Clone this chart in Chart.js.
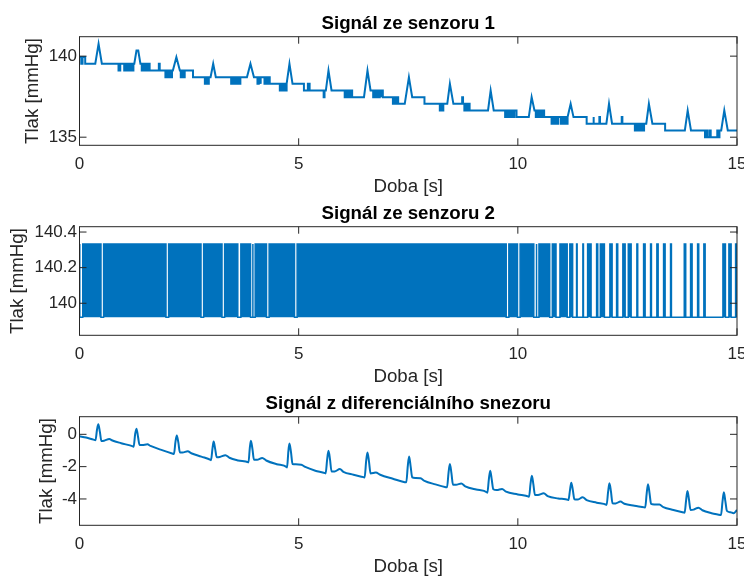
<!DOCTYPE html>
<html>
<head>
<meta charset="utf-8">
<script src="https://cdn.jsdelivr.net/npm/chart.js@4"></script>
<style>
html,body{margin:0;padding:0;background:#fff;overflow:hidden;width:744px;height:576px;position:relative;}
canvas{position:absolute;left:0;}
</style>
</head>
<body>
<canvas id="c1" width="744" height="200" style="top:0px"></canvas>
<canvas id="c2" width="744" height="200" style="top:190px"></canvas>
<canvas id="c3" width="744" height="200" style="top:380px"></canvas>
<script>
// ---------- text ----------
const plotTitles = ['Signál ze senzoru 1', 'Signál ze senzoru 2', 'Signál z diferenciálního snezoru'];
const xAxisTitle = 'Doba [s]';
const yAxisTitle = 'Tlak [mmHg]';

// ---------- ticks ----------
const xTickValues = [0, 5, 10, 15];
const xTickLabels = ['0', '5', '10', '15'];
const y1TickValues = [135, 140];
const y1TickLabels = ['135', '140'];
const y2TickValues = [140, 140.2, 140.4];
const y2TickLabels = ['140', '140.2', '140.4'];
const y3TickValues = [-4, -2, 0];
const y3TickLabels = ['-4', '-2', '0'];

// ---------- sensor 1 (vertices of the quantized trace) ----------
const s1Time = [
 0, 0.04, 0.04, 0.07, 0.07, 0.13, 0.13,
 0.36, 0.435, 0.51,
 0.89, 0.89, 0.93, 0.93,
 1.02, 1.02, 1.05, 1.05, 1.08, 1.08, 1.11, 1.11, 1.14, 1.14, 1.17, 1.17, 1.20, 1.20, 1.23, 1.23,
 1.25, 1.30, 1.34, 1.39,
 1.42, 1.42, 1.45, 1.45, 1.48, 1.48, 1.51, 1.51, 1.54, 1.54, 1.57, 1.57,
 1.60, 1.60, 1.81, 1.81, 1.83, 1.83,
 1.96, 1.96, 1.99, 1.99, 2.02, 2.02, 2.05, 2.05, 2.08, 2.08, 2.11, 2.11,
 2.13, 2.21, 2.29,
 2.31, 2.31, 2.34, 2.34, 2.37, 2.37, 2.40, 2.40,
 2.59, 2.59,
 2.86, 2.86, 2.89, 2.89, 2.92, 2.92, 2.95, 2.95,
 2.99, 3.05, 3.11,
 3.46, 3.46, 3.49, 3.49, 3.52, 3.52, 3.55, 3.55, 3.58, 3.58, 3.61, 3.61, 3.64, 3.64, 3.67, 3.67,
 3.82, 3.90, 3.98,
 4.06, 4.06, 4.09, 4.09, 4.12, 4.12, 4.14, 4.14,
 4.22, 4.22, 4.25, 4.25, 4.28, 4.28, 4.31, 4.31, 4.34, 4.34,
 4.57, 4.57, 4.60, 4.60, 4.63, 4.63, 4.66, 4.66, 4.69, 4.69, 4.72, 4.72,
 4.73, 4.79, 4.86,
 5.12, 5.12, 5.21, 5.21, 5.25, 5.25,
 5.57, 5.57, 5.59, 5.59,
 5.62, 5.68, 5.75,
 6.05, 6.05, 6.08, 6.08, 6.11, 6.11, 6.14, 6.14, 6.17, 6.17, 6.20, 6.20, 6.22, 6.22,
 6.49, 6.57, 6.64,
 6.70, 6.70, 6.73, 6.73, 6.76, 6.76, 6.79, 6.79, 6.82, 6.82, 6.85, 6.85, 6.88, 6.88, 6.90, 6.90, 6.92, 6.92,
 7.15, 7.15, 7.18, 7.18, 7.21, 7.21, 7.24, 7.24, 7.27, 7.27,
 7.42, 7.515, 7.59,
 7.87, 7.87,
 8.22, 8.22, 8.25, 8.25, 8.28, 8.28, 8.30, 8.30,
 8.39, 8.45, 8.53,
 8.73, 8.73, 8.75, 8.75,
 8.78, 8.78, 8.81, 8.81, 8.84, 8.84, 8.87, 8.87, 8.90, 8.90,
 9.32, 9.38, 9.45,
 9.71, 9.71, 9.74, 9.74, 9.77, 9.77, 9.80, 9.80, 9.83, 9.83, 9.86, 9.86, 9.89, 9.89, 9.92, 9.92, 9.97, 9.97,
 10.25, 10.315, 10.38,
 10.41, 10.41, 10.44, 10.44, 10.47, 10.47, 10.50, 10.50, 10.53, 10.53, 10.56, 10.56, 10.60, 10.60,
 10.77, 10.77, 10.80, 10.80, 10.83, 10.83, 10.86, 10.86, 10.89, 10.89, 10.92, 10.92,
 10.98, 10.98, 11.01, 11.01, 11.04, 11.04, 11.07, 11.07, 11.10, 11.10, 11.13, 11.13,
 11.14, 11.205, 11.27,
 11.57, 11.57, 11.72, 11.72, 11.735, 11.735, 11.86, 11.86, 11.875, 11.875,
 12.02, 12.08, 12.15,
 12.37, 12.37, 12.385, 12.385,
 12.67, 12.67, 12.70, 12.70, 12.73, 12.73, 12.76, 12.76, 12.79, 12.79, 12.82, 12.82, 12.85, 12.85, 12.88, 12.88,
 12.93, 12.99, 13.07,
 13.36, 13.36,
 13.81, 13.875, 13.95,
 14.27, 14.27, 14.31, 14.31, 14.33, 14.33, 14.38, 14.38, 14.40, 14.40, 14.55, 14.55, 14.57, 14.57, 14.60, 14.60,
 14.64, 14.71, 14.79,
 15.0
];
const s1Value = [
 139.94, 139.94, 139.53, 139.53, 139.94, 139.94, 139.53,
 139.53, 140.76, 139.53,
 139.53, 139.11, 139.11, 139.53,
 139.53, 139.11, 139.11, 139.53, 139.53, 139.11, 139.11, 139.53, 139.53, 139.11, 139.11, 139.53, 139.53, 139.11, 139.11, 139.53,
 139.53, 140.35, 140.35, 139.53,
 139.53, 139.11, 139.11, 139.53, 139.53, 139.11, 139.11, 139.53, 139.53, 139.11, 139.11, 139.53,
 139.53, 139.11, 139.11, 139.53, 139.53, 139.11,
 139.11, 138.70, 138.70, 139.11, 139.11, 138.70, 138.70, 139.11, 139.11, 138.70, 138.70, 139.11,
 139.11, 139.94, 139.11,
 139.11, 138.70, 138.70, 139.11, 139.11, 138.70, 138.70, 139.11,
 139.11, 138.70,
 138.70, 138.29, 138.29, 138.70, 138.70, 138.29, 138.29, 138.70,
 138.70, 139.53, 138.70,
 138.70, 138.29, 138.29, 138.70, 138.70, 138.29, 138.29, 138.70, 138.70, 138.29, 138.29, 138.70, 138.70, 138.29, 138.29, 138.70,
 138.70, 139.53, 138.70,
 138.70, 138.29, 138.29, 138.70, 138.70, 138.29, 138.29, 138.70,
 138.70, 138.29, 138.29, 138.70, 138.70, 138.29, 138.29, 138.70, 138.70, 138.29,
 138.29, 137.88, 137.88, 138.29, 138.29, 137.88, 137.88, 138.29, 138.29, 137.88, 137.88, 138.29,
 138.29, 139.53, 138.29,
 138.29, 137.88, 137.88, 138.29, 138.29, 137.88,
 137.88, 137.47, 137.47, 137.88,
 137.88, 139.11, 137.88,
 137.88, 137.47, 137.47, 137.88, 137.88, 137.47, 137.47, 137.88, 137.88, 137.47, 137.47, 137.88, 137.88, 137.47,
 137.47, 139.11, 137.88,
 137.88, 137.47, 137.47, 137.88, 137.88, 137.47, 137.47, 137.88, 137.88, 137.47, 137.47, 137.88, 137.88, 137.47, 137.47, 137.88, 137.88, 137.47,
 137.47, 137.06, 137.06, 137.47, 137.47, 137.06, 137.06, 137.47, 137.47, 137.06,
 137.06, 138.70, 137.47,
 137.47, 137.06,
 137.06, 136.65, 136.65, 137.06, 137.06, 136.65, 136.65, 137.06,
 137.06, 138.29, 137.06,
 137.06, 137.47, 137.47, 137.06,
 137.06, 136.65, 136.65, 137.06, 137.06, 136.65, 136.65, 137.06, 137.06, 136.65,
 136.65, 137.88, 136.65,
 136.65, 136.24, 136.24, 136.65, 136.65, 136.24, 136.24, 136.65, 136.65, 136.24, 136.24, 136.65, 136.65, 136.24, 136.24, 136.65, 136.65, 136.24,
 136.24, 137.47, 136.65,
 136.65, 136.24, 136.24, 136.65, 136.65, 136.24, 136.24, 136.65, 136.65, 136.24, 136.24, 136.65, 136.65, 136.24,
 136.24, 135.83, 135.83, 136.24, 136.24, 135.83, 135.83, 136.24, 136.24, 135.83, 135.83, 136.24,
 136.24, 135.83, 135.83, 136.24, 136.24, 135.83, 135.83, 136.24, 136.24, 135.83, 135.83, 136.24,
 136.24, 137.06, 136.24,
 136.24, 135.83, 135.83, 136.24, 136.24, 135.83, 135.83, 136.24, 136.24, 135.83,
 135.83, 137.06, 135.83,
 135.83, 136.24, 136.24, 135.83,
 135.83, 135.42, 135.42, 135.83, 135.83, 135.42, 135.42, 135.83, 135.83, 135.42, 135.42, 135.83, 135.83, 135.42, 135.42, 135.83,
 135.83, 137.06, 135.83,
 135.83, 135.42,
 135.42, 136.65, 135.42,
 135.42, 135.00, 135.00, 135.42, 135.42, 135.00, 135.00, 135.42, 135.42, 135.00, 135.00, 135.42, 135.42, 135.00, 135.00, 135.42,
 135.42, 136.65, 135.42,
 135.42
];

// ---------- sensor 2 (two levels, intervals spent at the upper level) ----------
const s2Levels = [139.922, 140.333];
const s2HighStart = [
 0, 0.074, 0.55, 2.033, 2.832, 3.311, 3.681, 3.950, 4.008, 4.326,
 4.965, 9.795, 10.052, 10.424, 10.482, 10.787, 10.961, 11.186,
 11.340, 11.484, 11.592, 11.797, 11.882, 12.100, 12.253, 12.396, 12.520, 12.716,
 12.869, 13.028, 13.172, 13.325, 13.484, 13.797, 13.941, 14.101, 14.244, 14.679,
 14.815, 14.968
];
const s2HighEnd = [
 0.010, 0.49, 1.973, 2.772, 3.251, 3.611, 3.902, 3.958, 4.266, 4.905,
 9.735, 9.992, 10.364, 10.428, 10.727, 10.871, 11.126, 11.250,
 11.353, 11.497, 11.671, 11.823, 11.975, 12.151, 12.279, 12.448, 12.585, 12.735,
 12.904, 13.048, 13.201, 13.360, 13.504, 13.830, 13.976, 14.127, 14.273, 14.736,
 14.866, 15.0
];

// ---------- differential sensor ----------
const s3Time = [
 0, 0.15, 0.32,
 0.365, 0.40, 0.43, 0.465, 0.50, 0.56, 0.68, 0.75, 0.95, 1.22,
 1.235, 1.27, 1.30, 1.335, 1.37, 1.43, 1.55, 1.62, 1.85, 2.13,
 2.155, 2.19, 2.22, 2.255, 2.29, 2.35, 2.47, 2.55, 2.78, 2.99,
 3.00, 3.035, 3.06, 3.095, 3.13, 3.20, 3.33, 3.42, 3.62, 3.85,
 3.855, 3.885, 3.91, 3.945, 3.98, 4.05, 4.17, 4.26, 4.50, 4.73,
 4.735, 4.765, 4.79, 4.825, 4.86, 4.93, 5.06, 5.15, 5.38, 5.60,
 5.615, 5.65, 5.68, 5.715, 5.75, 5.82, 5.94, 6.02, 6.25, 6.48,
 6.505, 6.54, 6.57, 6.605, 6.64, 6.70, 6.76, 6.86, 7.15, 7.42,
 7.455, 7.49, 7.52, 7.555, 7.59, 7.66, 7.78, 7.87, 8.12, 8.36,
 8.385, 8.42, 8.45, 8.485, 8.52, 8.59, 8.71, 8.80, 9.05, 9.30,
 9.305, 9.34, 9.37, 9.405, 9.44, 9.52, 9.64, 9.73, 10.0, 10.25,
 10.255, 10.29, 10.32, 10.355, 10.39, 10.46, 10.59, 10.68, 10.92, 11.15,
 11.155, 11.19, 11.22, 11.255, 11.29, 11.36, 11.48, 11.57, 11.80, 12.02,
 12.025, 12.06, 12.09, 12.125, 12.16, 12.23, 12.34, 12.43, 12.66, 12.89,
 12.905, 12.94, 12.97, 13.005, 13.04, 13.11, 13.23, 13.32, 13.55, 13.79,
 13.805, 13.84, 13.87, 13.905, 13.94, 14.01, 14.12, 14.21, 14.42, 14.62,
 14.635, 14.67, 14.70, 14.735, 14.77, 14.85, 14.92, 15.0
];
const s3Value = [
 -0.12, -0.20, -0.33,
 -0.36, 0.30, 0.62, 0.15, -0.42, -0.40, -0.29, -0.38, -0.55, -0.75,
 -0.77, 0.02, 0.35, -0.15, -0.66, -0.66, -0.62, -0.72, -0.95, -1.20,
 -1.22, -0.45, -0.08, -0.50, -1.12, -1.12, -1.05, -1.17, -1.38, -1.58,
 -1.60, -0.85, -0.45, -0.90, -1.42, -1.40, -1.29, -1.45, -1.62, -1.73,
 -1.74, -0.85, -0.40, -0.90, -1.58, -1.58, -1.46, -1.62, -1.85, -2.03,
 -2.05, -1.05, -0.57, -1.10, -1.84, -1.86, -1.88, -2.02, -2.25, -2.40,
 -2.42, -1.55, -1.02, -1.55, -2.30, -2.30, -2.15, -2.32, -2.50, -2.65,
 -2.67, -1.65, -1.13, -1.70, -2.42, -2.40, -2.36, -2.50, -2.75, -2.96,
 -2.97, -1.95, -1.38, -2.00, -2.66, -2.70, -2.72, -2.88, -3.10, -3.27,
 -3.28, -2.35, -1.84, -2.40, -3.12, -3.12, -3.05, -3.22, -3.42, -3.60,
 -3.62, -2.75, -2.25, -2.80, -3.40, -3.45, -3.38, -3.55, -3.72, -3.86,
 -3.87, -3.05, -2.56, -3.10, -3.75, -3.75, -3.65, -3.82, -3.97, -4.06,
 -4.07, -3.45, -2.99, -3.45, -4.02, -4.04, -3.90, -4.07, -4.23, -4.36,
 -4.37, -3.55, -3.03, -3.55, -4.27, -4.28, -4.16, -4.30, -4.42, -4.52,
 -4.53, -3.65, -3.09, -3.65, -4.31, -4.34, -4.35, -4.50, -4.68, -4.84,
 -4.85, -4.05, -3.51, -4.05, -4.68, -4.66, -4.54, -4.70, -4.88, -4.99,
 -5.00, -4.15, -3.59, -4.15, -4.74, -4.82, -4.88, -4.68
];

// ---------- styling ----------
const BLUE = '#0072BD';
const AXIS = '#262626';
const FONT = '"Liberation Sans", Arial, Helvetica, sans-serif';

const boxPlugin = {
  id: 'matlabBox',
  afterDatasetsDraw(chart) {
    const {ctx, chartArea: a, scales} = chart;
    const L = 7;
    ctx.save();
    ctx.strokeStyle = AXIS;
    ctx.lineWidth = 1;
    ctx.strokeRect(a.left, a.top, a.right - a.left, a.bottom - a.top);
    ctx.beginPath();
    scales.x.ticks.forEach(t => {
      const p = scales.x.getPixelForValue(t.value);
      ctx.moveTo(p, a.bottom); ctx.lineTo(p, a.bottom - L);
      ctx.moveTo(p, a.top); ctx.lineTo(p, a.top + L);
    });
    scales.y.ticks.forEach(t => {
      const p = scales.y.getPixelForValue(t.value);
      ctx.moveTo(a.left, p); ctx.lineTo(a.left + L, p);
      ctx.moveTo(a.right, p); ctx.lineTo(a.right - L, p);
    });
    ctx.stroke();
    ctx.restore();
  }
};

function makeChart(id, title, dataset, yMin, yMax, yTickValues, yTickLabels, yTitlePad) {
  return new Chart(document.getElementById(id), {
    type: 'line',
    data: { datasets: [dataset] },
    options: {
      responsive: false,
      animation: false,
      devicePixelRatio: 1,
      events: [],
      layout: { padding: { left: 0, right: 7, top: 0, bottom: 0 } },
      plugins: {
        legend: { display: false },
        tooltip: { enabled: false },
        title: {
          display: true, text: title, fullSize: false, color: '#000',
          font: { family: FONT, size: 18.7, weight: 'bold', lineHeight: 1 },
          padding: { top: 14.65, bottom: 3.35 }
        }
      },
      scales: {
        x: {
          type: 'linear', min: 0, max: 15,
          afterBuildTicks: s => { s.ticks = xTickValues.map(v => ({ value: v })); },
          afterFit: s => { s.height = 54.7; s.paddingLeft = 0; s.paddingRight = 0; },
          grid: { display: false, drawTicks: false },
          border: { display: false },
          ticks: {
            autoSkip: false, maxRotation: 0, minRotation: 0, padding: 10.5, color: AXIS,
            font: { family: FONT, size: 17, lineHeight: 1 },
            callback: (v, i) => xTickLabels[i]
          },
          title: {
            display: true, text: xAxisTitle, color: AXIS,
            font: { family: FONT, size: 18.7, lineHeight: 1 },
            padding: { top: 0, bottom: 3.6 }
          }
        },
        y: {
          type: 'linear', min: yMin, max: yMax,
          afterBuildTicks: s => { s.ticks = yTickValues.map(v => ({ value: v })); },
          afterFit: s => { s.width = 79.5; s.paddingTop = 0; s.paddingBottom = 0; },
          grid: { display: false, drawTicks: false },
          border: { display: false },
          ticks: {
            autoSkip: false, padding: 2.5, color: AXIS,
            font: { family: FONT, size: 17, lineHeight: 1 },
            callback: (v, i) => yTickLabels[i]
          },
          title: {
            display: true, text: yAxisTitle, color: AXIS,
            font: { family: FONT, size: 18.7, lineHeight: 1 },
            padding: { top: yTitlePad, bottom: 0 }
          }
        }
      }
    },
    plugins: [boxPlugin]
  });
}

// sensor 1
makeChart('c1', plotTitles[0], {
  data: s1Time.map((t, i) => ({ x: t, y: s1Value[i] })),
  borderColor: BLUE, borderWidth: 2, pointRadius: 0, fill: false
}, 134.5, 141.2, y1TickValues, y1TickLabels, 24);

// sensor 2
const s2Points = [];
s2HighStart.forEach((st, i) => {
  s2Points.push({ x: st, y: s2Levels[0] }, { x: st, y: s2Levels[1] },
                { x: s2HighEnd[i], y: s2Levels[1] }, { x: s2HighEnd[i], y: s2Levels[0] });
});
makeChart('c2', plotTitles[1], {
  data: s2Points,
  borderColor: BLUE, backgroundColor: BLUE, borderWidth: 1.5, pointRadius: 0,
  fill: { value: s2Levels[0] }
}, 139.82, 140.43, y2TickValues, y2TickLabels, 9);

// differential sensor
makeChart('c3', plotTitles[2], {
  data: s3Time.map((t, i) => ({ x: t, y: s3Value[i] })),
  borderColor: BLUE, borderWidth: 2, pointRadius: 0, cubicInterpolationMode: 'monotone', fill: false
}, -5.63, 1.09, y3TickValues, y3TickLabels, 37.5);
</script>
</body>
</html>
